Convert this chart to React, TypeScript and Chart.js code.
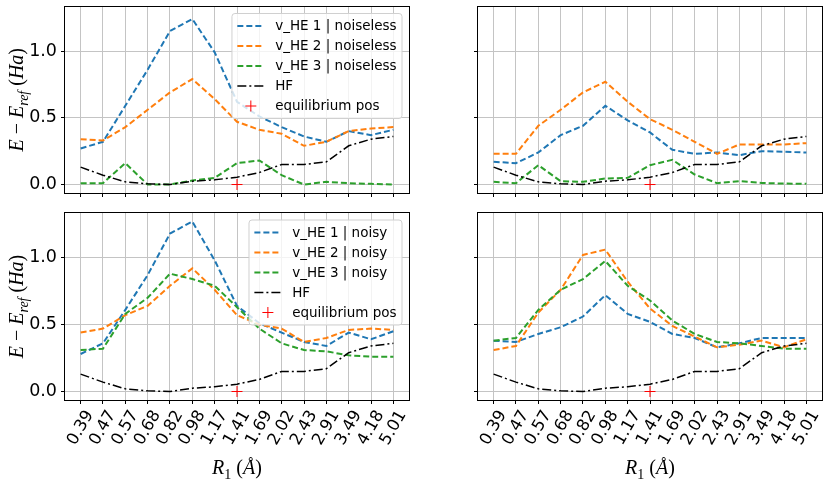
import React, { useEffect, useRef } from "react";
import { Chart, registerables } from "chart.js";

Chart.register(...registerables);

const categories = ["0.39", "0.47", "0.57", "0.68", "0.82", "0.98", "1.17", "1.41", "1.69", "2.02", "2.43", "2.91", "3.49", "4.18", "5.01"];
const yTickValues = [0, 0.5, 1.0];
const hfEnergy = [0.13, 0.07, 0.02, 0.005, 0.0, 0.025, 0.035, 0.055, 0.09, 0.15, 0.15, 0.17, 0.29, 0.34, 0.36];
const equilibriumIndex = 7;
const equilibriumValue = 0;

const noiselessLeftHE1 = [0.27, 0.32, 0.59, 0.86, 1.15, 1.24, 0.99, 0.62, 0.51, 0.43, 0.36, 0.32, 0.4, 0.37, 0.41];
const noiselessLeftHE2 = [0.34, 0.33, 0.43, 0.56, 0.69, 0.79, 0.64, 0.47, 0.41, 0.38, 0.29, 0.32, 0.4, 0.42, 0.43];
const noiselessLeftHE3 = [0.01, 0.01, 0.16, 0.0, 0.0, 0.03, 0.05, 0.16, 0.18, 0.07, 0.0, 0.02, 0.01, 0.005, 0.0];
const noiselessRightHE1 = [0.17, 0.16, 0.24, 0.37, 0.44, 0.59, 0.48, 0.39, 0.26, 0.23, 0.24, 0.22, 0.25, 0.245, 0.24];
const noiselessRightHE2 = [0.23, 0.23, 0.44, 0.56, 0.69, 0.77, 0.62, 0.49, 0.41, 0.32, 0.23, 0.3, 0.3, 0.3, 0.31];
const noiselessRightHE3 = [0.02, 0.01, 0.145, 0.025, 0.02, 0.045, 0.05, 0.145, 0.185, 0.075, 0.01, 0.025, 0.012, 0.007, 0.005];
const noisyLeftHE1 = [0.28, 0.36, 0.61, 0.87, 1.18, 1.27, 0.98, 0.64, 0.51, 0.44, 0.37, 0.34, 0.44, 0.39, 0.45];
const noisyLeftHE2 = [0.44, 0.47, 0.57, 0.64, 0.79, 0.92, 0.76, 0.57, 0.5, 0.47, 0.37, 0.4, 0.46, 0.47, 0.46];
const noisyLeftHE3 = [0.31, 0.32, 0.58, 0.7, 0.88, 0.84, 0.79, 0.63, 0.47, 0.36, 0.31, 0.3, 0.27, 0.26, 0.26];
const noisyRightHE1 = [0.38, 0.37, 0.43, 0.48, 0.56, 0.72, 0.58, 0.52, 0.43, 0.4, 0.33, 0.36, 0.4, 0.4, 0.4];
const noisyRightHE2 = [0.31, 0.34, 0.59, 0.76, 1.02, 1.06, 0.82, 0.62, 0.49, 0.41, 0.33, 0.35, 0.38, 0.33, 0.39];
const noisyRightHE3 = [0.38, 0.4, 0.61, 0.76, 0.84, 0.975, 0.79, 0.68, 0.53, 0.43, 0.37, 0.36, 0.34, 0.32, 0.32];

const seriesColors = ["#1f77b4", "#ff7f0e", "#2ca02c"];

type PanelSpec = {
  id: string;
  left: number;
  top: number;
  width: number;
  height: number;
  yWidth: number;
  padRight: number;
  padTop: number;
  xHeight: number;
  showY: boolean;
  showX: boolean;
  showLegend: boolean;
  mode: string;
  series: number[][];
};

const panels: PanelSpec[] = [
  { id: "tl", left: 0, top: 0, width: 420, height: 203, yWidth: 65, padRight: 11, padTop: 6, xHeight: 10, showY: true, showX: false, showLegend: true, mode: "noiseless", series: [noiselessLeftHE1, noiselessLeftHE2, noiselessLeftHE3] },
  { id: "tr", left: 420, top: 0, width: 411, height: 203, yWidth: 58, padRight: 9, padTop: 6, xHeight: 10, showY: false, showX: false, showLegend: false, mode: "noiseless", series: [noiselessRightHE1, noiselessRightHE2, noiselessRightHE3] },
  { id: "bl", left: 0, top: 203, width: 420, height: 280, yWidth: 65, padRight: 11, padTop: 10, xHeight: 83, showY: true, showX: true, showLegend: true, mode: "noisy", series: [noisyLeftHE1, noisyLeftHE2, noisyLeftHE3] },
  { id: "br", left: 420, top: 203, width: 411, height: 280, yWidth: 58, padRight: 9, padTop: 10, xHeight: 83, showY: false, showX: true, showLegend: false, mode: "noisy", series: [noisyRightHE1, noisyRightHE2, noisyRightHE3] },
];

type Part = { t: string; italic?: boolean; sub?: boolean };
const serif = '"Liberation Serif", "DejaVu Serif", serif';

function mathWidth(ctx: CanvasRenderingContext2D, parts: Part[], size: number) {
  let w = 0;
  for (const p of parts) {
    const s = p.sub ? size * 0.7 : size;
    ctx.font = `${p.italic ? "italic " : ""}${s}px ${serif}`;
    w += ctx.measureText(p.t).width;
  }
  return w;
}

function drawMath(ctx: CanvasRenderingContext2D, parts: Part[], size: number, cx: number, cy: number) {
  const total = mathWidth(ctx, parts, size);
  let x = cx - total / 2;
  ctx.textAlign = "left";
  ctx.textBaseline = "alphabetic";
  ctx.fillStyle = "#000";
  for (const p of parts) {
    const s = p.sub ? size * 0.7 : size;
    ctx.font = `${p.italic ? "italic " : ""}${s}px ${serif}`;
    const y = cy + size * 0.33 + (p.sub ? size * 0.25 : 0);
    ctx.fillText(p.t, x, y);
    x += ctx.measureText(p.t).width;
  }
}

const yLabelParts: Part[] = [
  { t: "E", italic: true },
  { t: " − " },
  { t: "E", italic: true },
  { t: "ref", italic: true, sub: true },
  { t: " (" },
  { t: "Ha", italic: true },
  { t: ")" },
];
const xLabelParts: Part[] = [
  { t: "R", italic: true },
  { t: "1", sub: true },
  { t: " (" },
  { t: "Å", italic: true },
  { t: ")" },
];

function buildConfig(spec: PanelSpec): any {
  const gridOpts = { color: "#c4c4c4", lineWidth: 1, tickLength: 4, tickColor: "#000", tickWidth: 1, drawTicks: true };
  const datasets: any[] = spec.series.map((vals, k) => ({
    label: `v_HE ${k + 1} | ${spec.mode}`,
    data: vals.map((v, i) => ({ x: i, y: v })),
    borderColor: seriesColors[k],
    backgroundColor: seriesColors[k],
    borderWidth: 2,
    borderDash: [6, 3],
    pointRadius: 0,
    pointHoverRadius: 0,
    fill: false,
    tension: 0,
    order: 10 - k,
  }));
  datasets.push({
    label: "HF",
    data: hfEnergy.map((v, i) => ({ x: i, y: v })),
    borderColor: "#000",
    backgroundColor: "#000",
    borderWidth: 1.5,
    borderDash: [9, 3, 2, 3],
    pointRadius: 0,
    pointHoverRadius: 0,
    fill: false,
    tension: 0,
    order: 3,
  });
  datasets.push({
    label: "equilibrium pos",
    data: [{ x: equilibriumIndex, y: equilibriumValue }],
    showLine: false,
    pointStyle: "cross",
    pointRadius: 5.5,
    pointHoverRadius: 5.5,
    pointBorderColor: "#ff0000",
    pointBorderWidth: 1,
    borderColor: "#ff0000",
    backgroundColor: "#ff0000",
    order: 1,
  });

  const framePlugin = {
    id: "frame",
    afterDatasetsDraw(chart: any) {
      const { ctx, chartArea: a } = chart;
      ctx.save();
      ctx.strokeStyle = "#000";
      ctx.lineWidth = 1;
      const l = Math.round(a.left) - 0.5;
      const t = Math.round(a.top) - 0.5;
      ctx.strokeRect(l, t, Math.round(a.right) - Math.round(a.left) + 1, Math.round(a.bottom) - Math.round(a.top) + 1);
      ctx.restore();
    },
  };

  const legendPlugin = {
    id: "mplLegend",
    afterDraw(chart: any) {
      if (!spec.showLegend) return;
      const { ctx, chartArea: a } = chart;
      const fs = 13.5;
      const items = chart.data.datasets;
      ctx.save();
      ctx.font = `${fs}px "DejaVu Sans"`;
      let maxW = 0;
      for (const d of items) maxW = Math.max(maxW, ctx.measureText(d.label).width);
      const pad = 5.4, handle = 27, gap = 10.8, rowH = 20, firstRow = 12.5;
      const w = pad + handle + gap + maxW + pad;
      const h = firstRow * 2 + rowH * (items.length - 1);
      const x0 = a.right - 7 - w;
      const y0 = a.top + 7;
      ctx.beginPath();
      (ctx as any).roundRect(x0, y0, w, h, 3);
      ctx.fillStyle = "rgba(255,255,255,0.8)";
      ctx.fill();
      ctx.strokeStyle = "#d0d0d0";
      ctx.lineWidth = 1;
      ctx.stroke();
      items.forEach((d: any, k: number) => {
        const cy = y0 + firstRow + k * rowH;
        const hx = x0 + pad;
        if (d.showLine === false) {
          const cx = hx + handle / 2;
          const r = 5.5;
          ctx.setLineDash([]);
          ctx.strokeStyle = d.pointBorderColor;
          ctx.lineWidth = 1;
          ctx.beginPath();
          ctx.moveTo(cx - r, cy);
          ctx.lineTo(cx + r, cy);
          ctx.moveTo(cx, cy - r);
          ctx.lineTo(cx, cy + r);
          ctx.stroke();
        } else {
          ctx.setLineDash(d.borderDash || []);
          ctx.strokeStyle = d.borderColor;
          ctx.lineWidth = d.borderWidth;
          ctx.beginPath();
          ctx.moveTo(hx, cy);
          ctx.lineTo(hx + handle, cy);
          ctx.stroke();
          ctx.setLineDash([]);
        }
        ctx.fillStyle = "#000";
        ctx.font = `${fs}px "DejaVu Sans"`;
        ctx.textAlign = "left";
        ctx.textBaseline = "middle";
        ctx.fillText(d.label, hx + handle + gap, cy + 0.5);
      });
      ctx.restore();
    },
  };

  const labelsPlugin = {
    id: "mplLabels",
    afterDraw(chart: any) {
      const { ctx, chartArea: a } = chart;
      ctx.save();
      if (spec.showX) {
        const sc = chart.scales.x;
        const fs = 16.5;
        const ang = Math.PI / 3;
        ctx.font = `${fs}px "DejaVu Sans"`;
        ctx.fillStyle = "#000";
        for (const t of sc.ticks) {
          const label = categories[t.value];
          const px = sc.getPixelForValue(t.value);
          const w = ctx.measureText(label).width;
          const h = fs * 0.95;
          const bh = w * Math.sin(ang) + h * Math.cos(ang);
          ctx.save();
          ctx.translate(px, a.bottom + 8 + bh / 2);
          ctx.rotate(-ang);
          ctx.textAlign = "center";
          ctx.textBaseline = "middle";
          ctx.fillText(label, 0, 0);
          ctx.restore();
        }
        drawMath(ctx, xLabelParts, 20, (a.left + a.right) / 2, 264);
      }
      if (spec.showY) {
        ctx.save();
        ctx.translate(16, (a.top + a.bottom) / 2);
        ctx.rotate(-Math.PI / 2);
        drawMath(ctx, yLabelParts, 20, 0, 0);
        ctx.restore();
      }
      ctx.restore();
    },
  };

  const zeroPadding = (s: any) => {
    s.paddingTop = 0;
    s.paddingBottom = 0;
    s.paddingLeft = 0;
    s.paddingRight = 0;
  };

  return {
    type: "line",
    data: { datasets },
    plugins: [framePlugin, labelsPlugin, legendPlugin],
    options: {
      responsive: false,
      animation: false,
      events: [],
      layout: { padding: { left: 0, right: spec.padRight, top: spec.padTop, bottom: 0 } },
      plugins: { legend: { display: false }, tooltip: { enabled: false }, title: { display: false } },
      scales: {
        x: {
          type: "linear",
          bounds: "data",
          min: -0.7,
          max: 14.7,
          afterBuildTicks: (s: any) => {
            s.ticks = categories.map((_, i) => ({ value: i }));
          },
          afterFit: (s: any) => {
            s.height = spec.xHeight;
            zeroPadding(s);
          },
          ticks: { display: false },
          grid: gridOpts,
          border: { display: false },
        },
        y: {
          type: "linear",
          bounds: "data",
          min: -0.0635,
          max: 1.3335,
          afterBuildTicks: (s: any) => {
            s.ticks = yTickValues.map((v) => ({ value: v }));
          },
          afterFit: (s: any) => {
            s.width = spec.yWidth;
            zeroPadding(s);
          },
          ticks: {
            display: spec.showY,
            color: "#000",
            padding: 4,
            font: { family: '"DejaVu Sans"', size: 17.5 },
            callback: (v: any) => Number(v).toFixed(1),
          },
          grid: gridOpts,
          border: { display: false },
        },
      },
    },
  };
}

function Panel({ spec }: { spec: PanelSpec }) {
  const ref = useRef<HTMLCanvasElement>(null);
  useEffect(() => {
    if (!ref.current) return;
    const chart = new Chart(ref.current, buildConfig(spec));
    return () => chart.destroy();
  }, [spec]);
  return (
    <div style={{ position: "absolute", left: spec.left, top: spec.top, width: spec.width, height: spec.height }}>
      <canvas ref={ref} width={spec.width} height={spec.height} style={{ display: "block", width: spec.width, height: spec.height }} />
    </div>
  );
}

export default function App() {
  return (
    <div style={{ position: "absolute", left: 0, top: 0, width: 831, height: 483, background: "#fff", overflow: "hidden" }}>
      {panels.map((p) => (
        <Panel key={p.id} spec={p} />
      ))}
    </div>
  );
}
